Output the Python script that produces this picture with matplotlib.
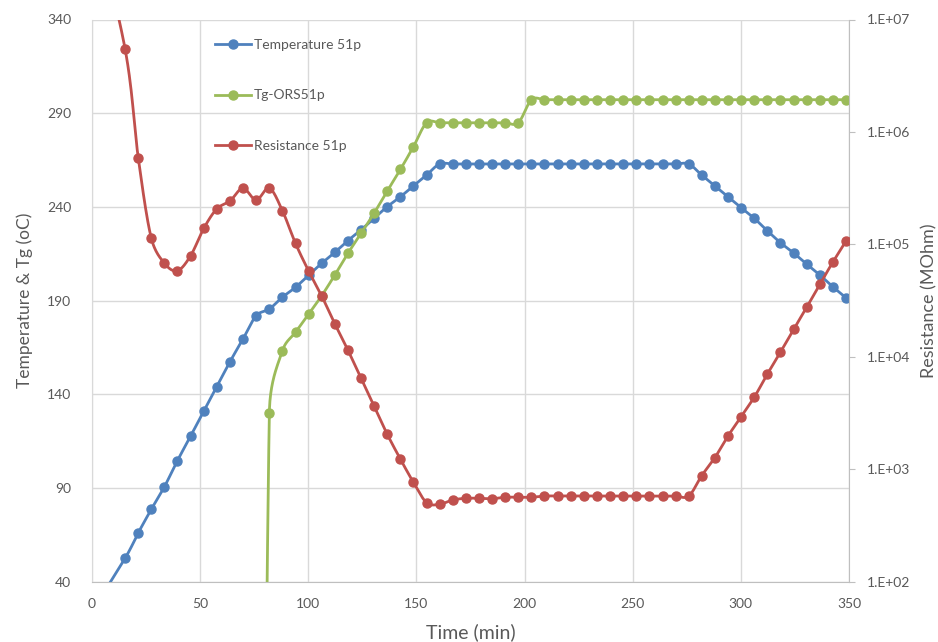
import matplotlib
matplotlib.use('Agg')
import matplotlib.pyplot as plt
from matplotlib.lines import Line2D
from matplotlib.ticker import FuncFormatter
import numpy as np

# sample times (min)
time_min = [0.0, 15.3, 21.4, 27.4, 33.5, 39.5, 45.6, 51.7, 57.7, 63.8, 69.8,
            75.9, 82.0, 88.0, 94.1, 100.1, 106.2, 112.3, 118.3, 124.4, 130.4,
            136.5, 142.6, 148.6, 154.7, 160.7, 166.8, 172.9, 178.9, 185.0, 191.0,
            197.1, 203.2, 209.2, 215.3, 221.3, 227.4, 233.5, 239.5, 245.6, 251.6,
            257.7, 263.8, 269.8, 275.9, 281.9, 288.0, 294.1, 300.1, 306.2, 312.2,
            318.3, 324.4, 330.4, 336.5, 342.5, 348.6]

temperature = [24.0, 52.5, 66.1, 78.6, 90.7, 104.6, 117.7, 131.1, 144.1, 157.4, 169.5,
               181.9, 185.5, 191.8, 197.1, 203.5, 209.9, 215.8, 222.0, 227.7, 233.9,
               240.1, 245.4, 251.2, 257.0, 262.9, 262.9, 262.9, 262.9, 262.9, 262.9,
               262.9, 262.9, 262.9, 262.9, 262.9, 262.9, 262.9, 262.9, 262.9, 262.9,
               262.9, 262.9, 262.9, 262.9, 257.0, 251.2, 245.4, 239.6, 233.9, 227.3,
               220.9, 215.4, 209.5, 203.7, 197.4, 191.5]

tg_ors = [None, None, None, None, None, None, None, None, None, None, None,
          -650.0, 130.2, 163.1, 173.1, 182.7, 192.6, 203.7, 215.2, 225.9, 236.6,
          248.5, 260.0, 272.1, 284.9, 284.9, 284.9, 284.9, 284.9, 284.9, 284.9,
          284.9, 297.2, 297.2, 297.2, 297.2, 297.2, 297.2, 297.2, 297.2, 297.2,
          297.2, 297.2, 297.2, 297.2, 297.2, 297.2, 297.2, 297.2, 297.2, 297.2,
          297.2, 297.2, 297.2, 297.2, 297.2, 297.2]

resistance = [1.0e8, 5.47e6, 5.86e5, 1.14e5, 6.79e4, 5.83e4, 7.93e4, 1.39e5, 2.07e5, 2.43e5, 3.16e5,
              2.48e5, 3.16e5, 2.00e5, 1.02e5, 5.83e4, 3.48e4, 1.96e4, 1.15e4, 6.44e3, 3.66e3,
              2.05e3, 1.23e3, 766, 505, 488, 533, 552, 552, 547, 564,
              564, 564, 578, 578, 578, 578, 578, 578, 578, 578,
              578, 578, 578, 578, 877, 1270, 1980, 2930, 4370, 7000,
              1.10e4, 1.76e4, 2.75e4, 4.42e4, 6.93e4, 1.07e5]

x_ticks = [0, 50, 100, 150, 200, 250, 300, 350]
left_ticks = [40, 90, 140, 190, 240, 290, 340]
right_ticks = [1e2, 1e3, 1e4, 1e5, 1e6, 1e7]

BLUE = '#4F81BD'
GREEN = '#9BBB59'
RED = '#C0504D'
GRID = '#D9D9D9'
TXT = '#595959'

plt.rcParams['font.family'] = ['Lato', 'DejaVu Sans']


def smooth(ax, x, y, n=24):
    # excel-like smoothed line, built in display space
    pts = ax.transData.transform(np.column_stack([x, y]))
    k = len(pts)
    out = [pts[0]]
    for i in range(k - 1):
        p0 = pts[max(i - 1, 0)]
        p1 = pts[i]
        p2 = pts[i + 1]
        p3 = pts[min(i + 2, k - 1)]
        seg = np.hypot(*(p2 - p1))
        t1 = (p2 - p0) / 6.0
        t2 = (p3 - p1) / 6.0
        l1 = np.hypot(*t1)
        l2 = np.hypot(*t2)
        if l1 > seg / 2:
            t1 = t1 * (seg / 2) / l1
        if l2 > seg / 2:
            t2 = t2 * (seg / 2) / l2
        c1 = p1 + t1
        c2 = p2 - t2
        s = np.linspace(0, 1, n)[1:, None]
        b = ((1 - s) ** 3) * p1 + 3 * ((1 - s) ** 2) * s * c1 + 3 * (1 - s) * s ** 2 * c2 + s ** 3 * p2
        out.extend(b)
    out = np.array(out)
    return ax.transData.inverted().transform(out)


fig = plt.figure(figsize=(9.38, 6.42), dpi=100)
ax = fig.add_axes([92 / 938, 1 - 581.7 / 642, (849 - 92) / 938, (581.7 - 19.5) / 642])
ax2 = ax.twinx()

ax.set_xlim(0, 350)
ax.set_ylim(40, 340)
ax.set_xticks(x_ticks)
ax.set_yticks(left_ticks)
ax2.set_yscale('log')
ax2.set_ylim(1e2, 1e7)
ax2.set_yticks(right_ticks)
ax2.minorticks_off()
ax2.yaxis.set_major_formatter(FuncFormatter(lambda v, p: '1.E+%02d' % int(round(np.log10(v)))))

ax.grid(True, color=GRID, linewidth=1.0)
ax.set_axisbelow(True)
for sp in ['top']:
    ax.spines[sp].set_visible(False)
    ax2.spines[sp].set_visible(False)
ax.spines['left'].set_color(GRID)
ax.spines['bottom'].set_color('#BFBFBF')
ax.spines['right'].set_visible(False)
ax2.spines['left'].set_visible(False)
ax2.spines['bottom'].set_visible(False)
ax2.spines['right'].set_color('#BFBFBF')

ax.tick_params(axis='both', length=0, labelsize=10, labelcolor=TXT)
ax.tick_params(axis='y', pad=15)
ax.tick_params(axis='x', pad=12)
ax2.tick_params(axis='y', length=4, color='#BFBFBF', labelsize=10, labelcolor=TXT, pad=9)

t = np.array(time_min)
temp = np.array(temperature)
tg = np.array([np.nan if v is None else v for v in tg_ors])
res = np.array(resistance)

lw = 2.0
ms = 6.5

c = smooth(ax, t, temp)
ax.plot(c[:, 0], c[:, 1], color=BLUE, lw=lw, zorder=3)
ax.plot(t, temp, 'o', color=BLUE, ms=ms, zorder=3)

ok = ~np.isnan(tg)
c = smooth(ax, t[ok], tg[ok])
ax.plot(c[:, 0], c[:, 1], color=GREEN, lw=lw, zorder=4)
ax.plot(t[ok], tg[ok], 'o', color=GREEN, ms=ms, zorder=4)

c = smooth(ax2, t, res)
ax2.plot(c[:, 0], c[:, 1], color=RED, lw=lw, zorder=3)
ax2.plot(t, res, 'o', color=RED, ms=ms, zorder=3)

ax.set_xlabel('Time (min)', fontsize=14, color=TXT, labelpad=9)
ax.set_ylabel('Temperature & Tg (oC)', fontsize=12.5, color=TXT, labelpad=10)
ax2.set_ylabel('Resistance (MOhm)', fontsize=13, color=TXT, labelpad=8)

handles = [Line2D([], [], color=BLUE, lw=lw, marker='o', ms=ms),
           Line2D([], [], color=GREEN, lw=lw, marker='o', ms=ms),
           Line2D([], [], color=RED, lw=lw, marker='o', ms=ms)]
labels = ['Temperature 51p', 'Tg-ORS51p', 'Resistance 51p']
leg = ax2.legend(handles, labels, loc='upper left', bbox_to_anchor=(0.162, 0.965),
                 frameon=False, fontsize=10, handlelength=2.6, handletextpad=0.25,
                 labelspacing=2.75, borderpad=0, borderaxespad=0)
for tx in leg.get_texts():
    tx.set_color(TXT)

fig.savefig('out.png', dpi=100)
